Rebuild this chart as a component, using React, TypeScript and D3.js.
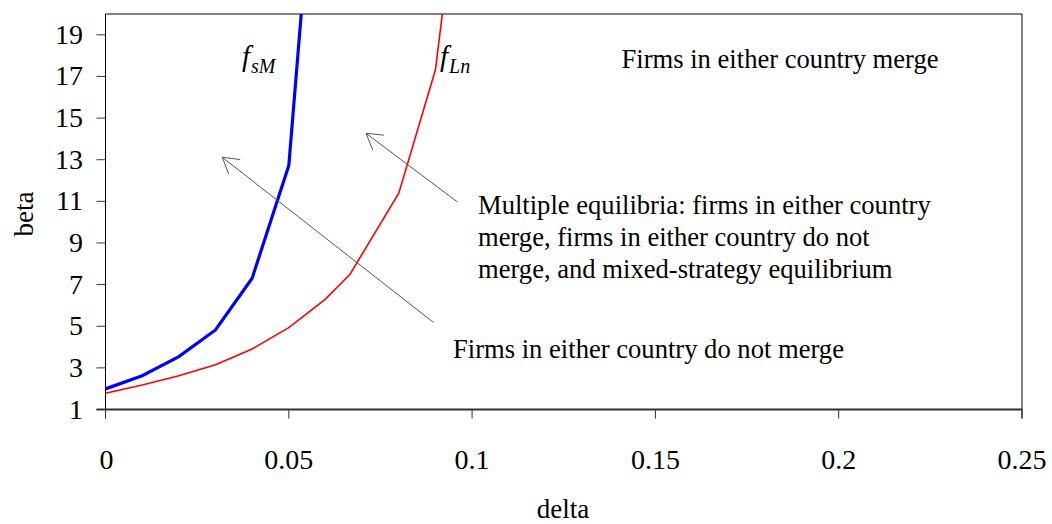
import React from "react";
import * as d3 from "d3";

const deltaSM = [0, 0.01, 0.02, 0.03, 0.04, 0.05, 0.06];
const betaSM = [1.99, 2.62, 3.54, 4.82, 7.31, 12.72, 34.2];
const deltaLN = [0, 0.01, 0.02, 0.03, 0.04, 0.05, 0.06, 0.0667, 0.08, 0.09, 0.1];
const betaLN = [1.78, 2.18, 2.62, 3.15, 3.91, 4.93, 6.3, 7.5, 11.39, 17.32, 31.6];
const xTicks = [0, 0.05, 0.1, 0.15, 0.2, 0.25];
const yTicks = [1, 3, 5, 7, 9, 11, 13, 15, 17, 19];
const xLabels = ["0", "0.05", "0.1", "0.15", "0.2", "0.25"];

const W = 1052, H = 524;
const left = 105.5, right = 1022, top = 14, bottom = 409.5;
const ts = { fontFamily: "Liberation Serif" };
const ann = 26.6;

export default function App() {
  const x = d3.scaleLinear().domain([0, 0.25]).range([left, right]);
  const y = d3.scaleLinear().domain([1, 20]).range([bottom, top]);
  const line = d3.line<[number, number]>().x(d => x(d[0])).y(d => y(d[1]));
  const sm = line(deltaSM.map((d, i) => [d, betaSM[i]]))!;
  const ln = line(deltaLN.map((d, i) => [d, betaLN[i]]))!;

  const arrow = (x1: number, y1: number, x2: number, y2: number) => {
    const a = Math.atan2(y1 - y2, x1 - x2);
    const L = 18, s = (31 * Math.PI) / 180;
    const p1 = [x2 + L * Math.cos(a + s), y2 + L * Math.sin(a + s)];
    const p2 = [x2 + L * Math.cos(a - s), y2 + L * Math.sin(a - s)];
    return (
      <g stroke="#555" strokeWidth={1} fill="none">
        <line x1={x1} y1={y1} x2={x2} y2={y2} />
        <polyline points={`${p1[0]},${p1[1]} ${x2},${y2} ${p2[0]},${p2[1]}`} />
      </g>
    );
  };

  return (
    <svg width={W} height={H} style={{ position: "absolute", left: 0, top: 0 }}>
      <defs>
        <clipPath id="plot">
          <rect x={left} y={top} width={right - left} height={bottom - top} />
        </clipPath>
      </defs>
      <line x1={left} y1={top} x2={right} y2={top} stroke="#000" strokeWidth={1} />
      <line x1={right} y1={top} x2={right} y2={bottom + 9} stroke="#000" strokeWidth={1} />
      <line x1={left} y1={top} x2={left} y2={bottom + 9} stroke="#000" strokeWidth={1} />
      <line x1={left - 9} y1={bottom} x2={right} y2={bottom} stroke="#333" strokeWidth={2} />
      {yTicks.map(t => (
        <g key={"y" + t}>
          <line x1={left - 9} y1={y(t)} x2={left} y2={y(t)} stroke="#333" strokeWidth={1} />
          <text style={ts} x={83} y={y(t) + 9} fontSize={28} textAnchor="end">{t}</text>
        </g>
      ))}
      {xTicks.map((t, i) => (
        <g key={"x" + t}>
          <line x1={x(t)} y1={bottom} x2={x(t)} y2={bottom + 9} stroke="#333" strokeWidth={1} />
          <text style={ts} x={x(t) + (i === 0 ? 1 : 0)} y={469} fontSize={28} textAnchor="middle">{xLabels[i]}</text>
        </g>
      ))}
      <text style={ts} x={563} y={518} fontSize={27} textAnchor="middle">delta</text>
      <text style={ts} transform="translate(33,214) rotate(-90)" fontSize={27} textAnchor="middle">beta</text>

      <g clipPath="url(#plot)">
        <path d={ln} stroke="#ff0000" strokeWidth={1.6} fill="none" />
        <path d={sm} stroke="#0000ff" strokeWidth={3.2} fill="none" />
      </g>

      {arrow(433.3, 322.3, 222.3, 157.3)}
      {arrow(457.5, 202, 366, 133.3)}

      <text x={621.5} y={67.5} fontSize={ann} style={ts}>Firms in either country merge</text>
      <text x={478} y={214} fontSize={ann} style={ts}>Multiple equilibria: firms in either country</text>
      <text x={478} y={246} fontSize={ann} style={ts}>merge, firms in either country do not</text>
      <text x={478} y={278} fontSize={ann} style={ts}>merge, and mixed-strategy equilibrium</text>
      <text x={453} y={358} fontSize={ann} style={ts}>Firms in either country do not merge</text>

      <text x={242} y={66} fontSize={29} fontStyle="italic" style={ts}>f<tspan fontSize={20} dy={7} dx={1}>sM</tspan></text>
      <text x={440} y={66} fontSize={29} fontStyle="italic" style={ts}>f<tspan fontSize={20} dy={7} dx={1}>Ln</tspan></text>
    </svg>
  );
}
